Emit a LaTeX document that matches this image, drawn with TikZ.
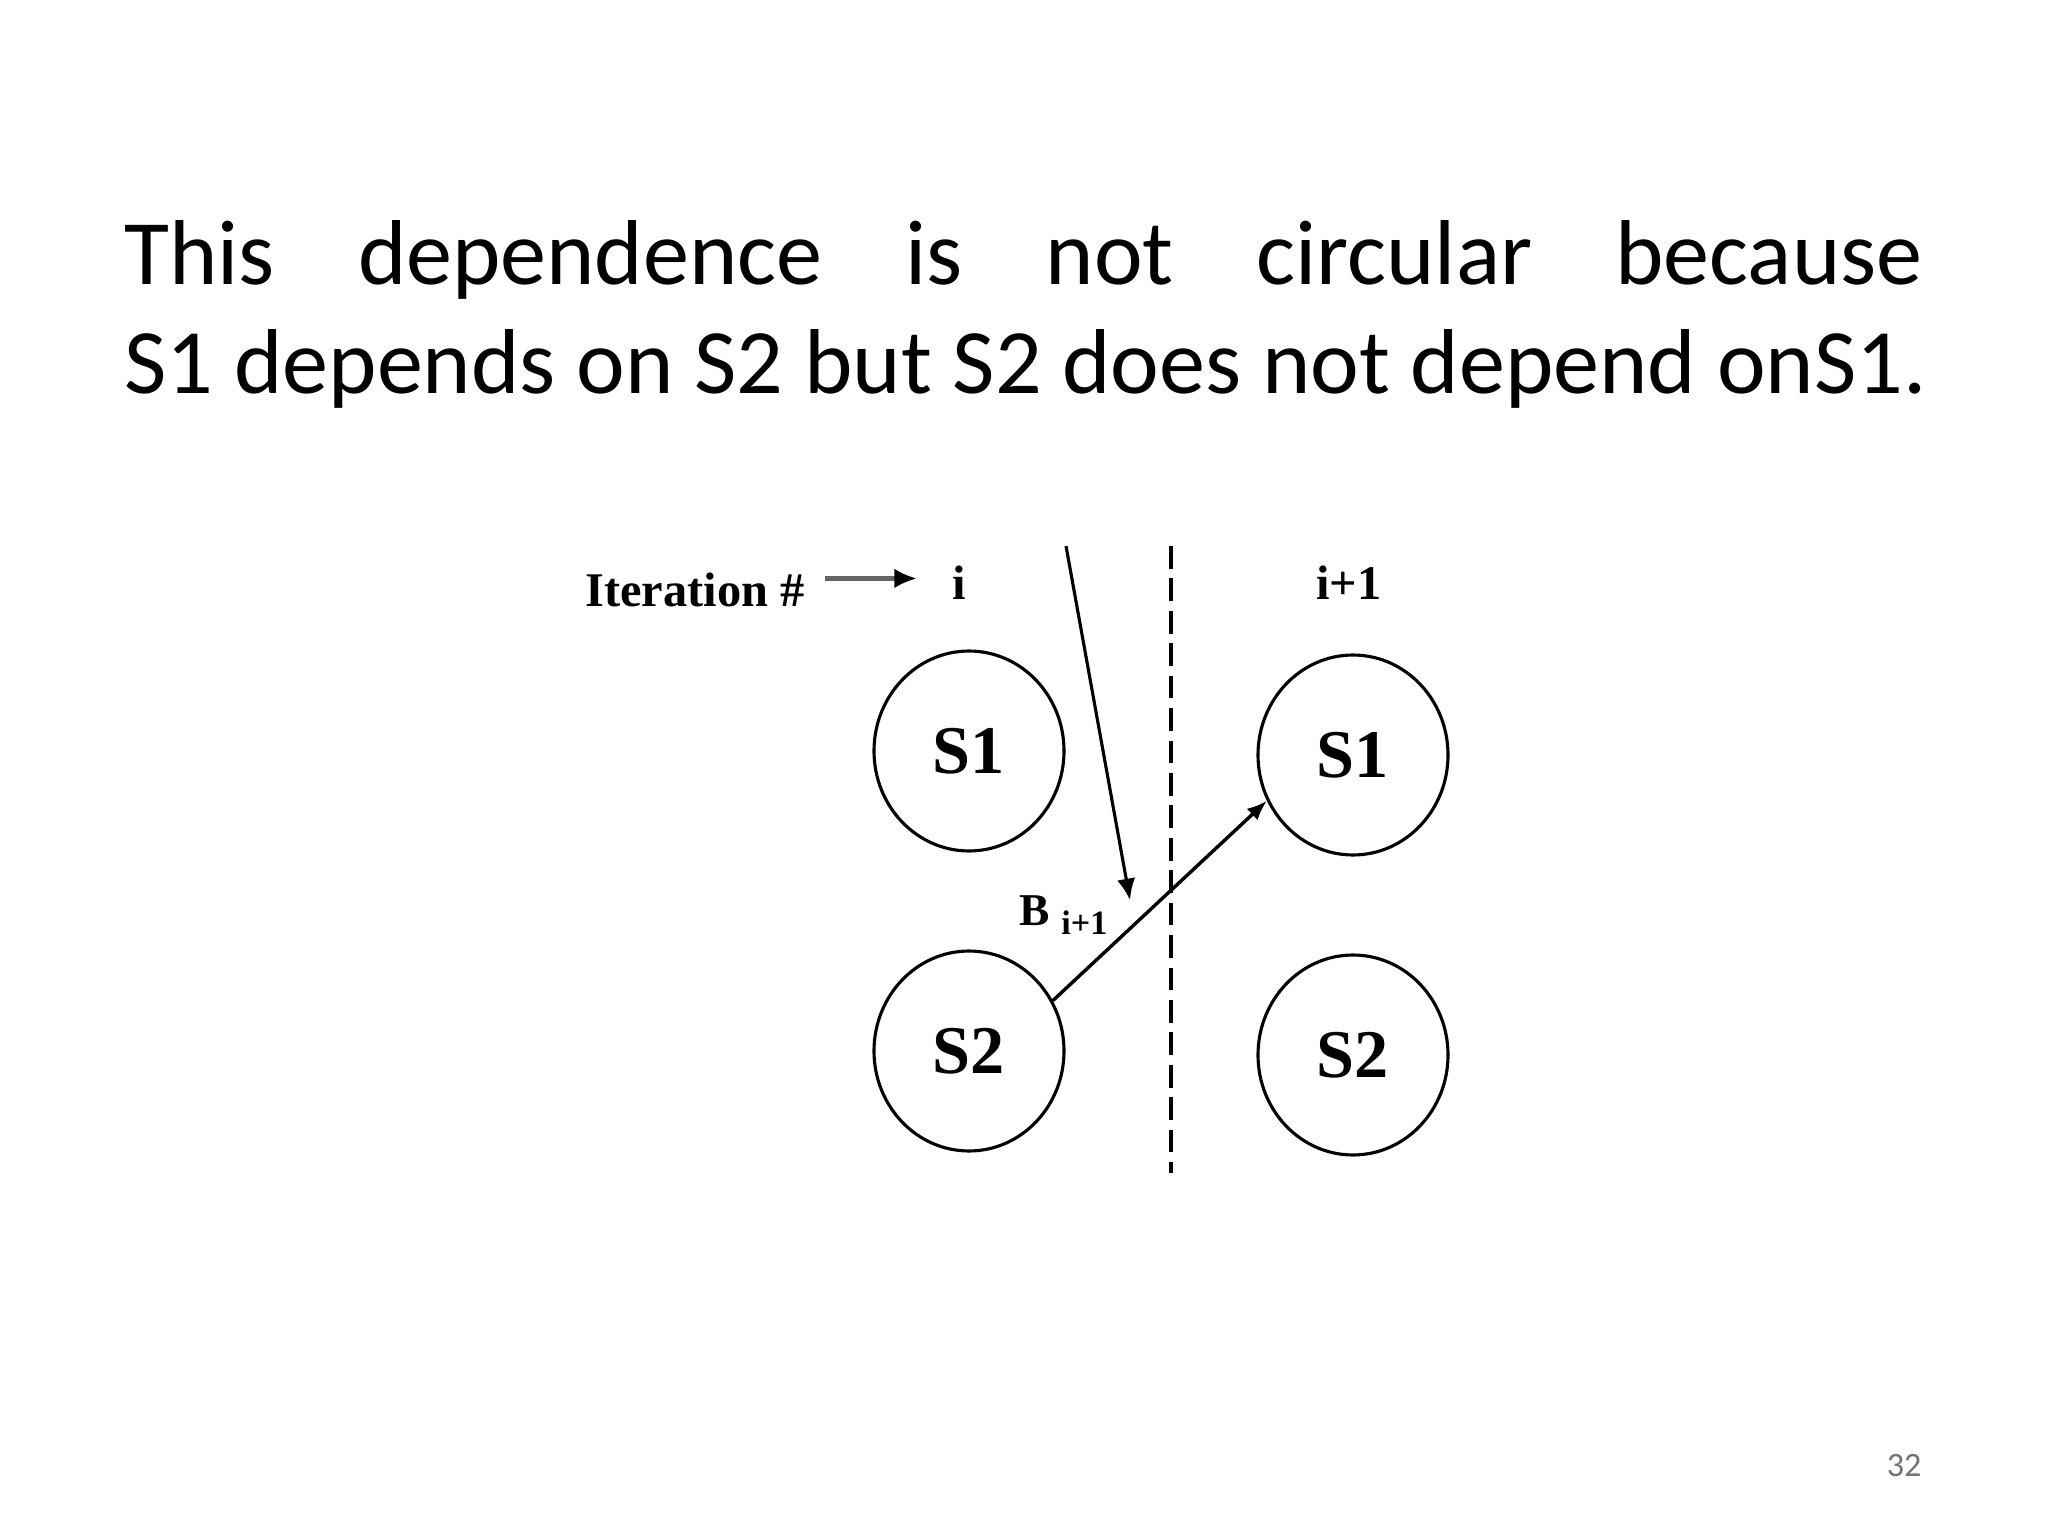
\documentclass[tikz,border=0pt]{standalone}
\usepackage{fontspec}
\setmainfont{Carlito}
\newfontfamily\timesfont{Liberation Serif}
\usetikzlibrary{arrows.meta, shapes.geometric}

\begin{document}
\begin{tikzpicture}[x=0.3515625pt, y=-0.3515625pt,
    heading/.style={anchor=base west, inner sep=0pt, text=black,
        font=\fontsize{32.4}{38}\selectfont},
    stmt/.style={ellipse, draw=black, line width=1.1pt, fill=none,
        minimum width=66.8pt, minimum height=70.3pt, inner sep=0pt,
        text centered, font=\timesfont\bfseries\fontsize{24}{28}\selectfont},
    iter/.style={anchor=base, inner sep=0pt, text=black,
        font=\timesfont\bfseries\fontsize{17}{20}\selectfont},
    dep/.style={line width=1.2pt, -{Latex[length=7pt, width=5.5pt]}},
    cut/.style={line width=1.2pt, dash pattern=on 8pt off 3.4pt}
]
\useasboundingbox[fill=white] (0,0) rectangle (2048,1536);

% slide text
\node (title1) [heading] at (124,285)
    {\makebox[632.1pt][s]{This dependence is not circular because}};
\node (title2) [heading] at (124,394)
    {S1 depends on S2 but S2 does not depend onS1.};
\node (pagenum) [anchor=base east, inner sep=0pt, text=black!55,
    font=\fontsize{12}{14}\selectfont] at (1922,1476) {32};

% iteration numbers
\node (IterLbl) [iter, anchor=base east] at (805,607) {Iteration \#};
\node (Iter0) [iter] at (959,600) {i};
\node (Iter1) [iter] at (1349,600) {i+1};
\draw [line width=1.8pt, draw=black!60,
    -{Latex[length=8pt, width=7pt, color=black]}]
    (IterLbl.east) ++(20,-12) coordinate (IterA) -- ++(92,0) coordinate (IterB);

% statements
\node (S1i) [stmt] at (969,751) {S1};
\node (S2i) [stmt] at (969,1051) {S2};
\node (S1n) [stmt] at (1353,755) {S1};
\node (S2n) [stmt] at (1353,1055) {S2};

% iteration boundary
\coordinate (CutTop) at (1171,546);
\coordinate (CutBot) at (1171,1173);
\draw [cut] (CutTop) -- (CutBot);

% dependence
\coordinate (BTop) at (1066,546);
\coordinate (BTip) at (1130,900);
\draw [dep, line width=1.1pt, -{Latex[length=7.5pt, width=6.5pt]}] (BTop) -- (BTip);
\node (Blbl) [iter, anchor=base west, font=\timesfont\bfseries\fontsize{16}{18}\selectfont]
    at (1019,925) {B\hspace{4pt}\raisebox{-3.5pt}{\fontsize{12}{14}\selectfont i+1}};
\draw [dep] (S2i.31) -- (S1n.208);
\end{tikzpicture}
\end{document}
